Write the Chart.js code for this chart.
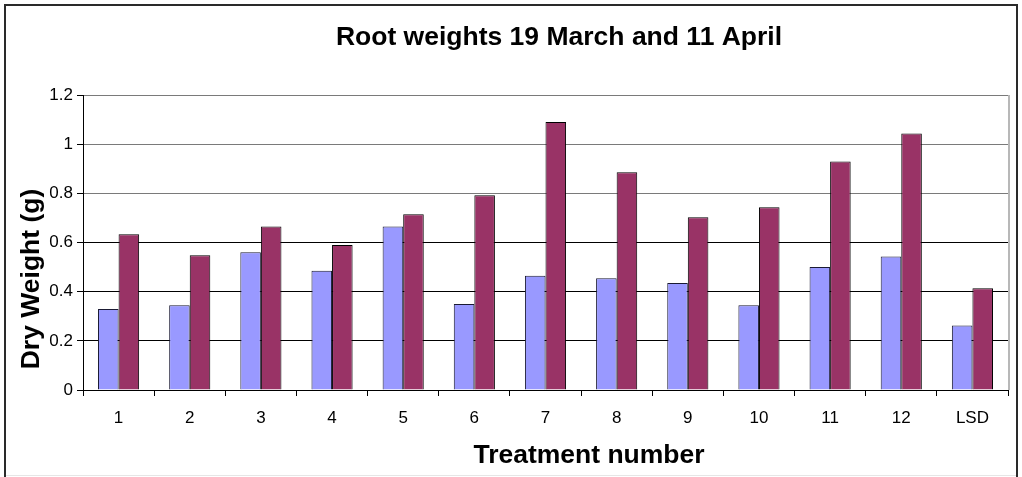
<!DOCTYPE html>
<html>
<head>
<meta charset="utf-8">
<script src="https://cdn.jsdelivr.net/npm/chart.js@4/dist/chart.umd.min.js"></script>
<style>
  html, body { margin: 0; padding: 0; background: #ffffff; }
  #wrap { width: 1022px; height: 477px; position: relative; }
</style>
</head>
<body>
<div id="wrap"><canvas id="c" width="1022" height="477"></canvas></div>
<script>
const categories = ['1', '2', '3', '4', '5', '6', '7', '8', '9', '10', '11', '12', 'LSD'];
const march19 = [0.33, 0.345, 0.56, 0.485, 0.665, 0.35, 0.465, 0.455, 0.435, 0.345, 0.5, 0.543, 0.262];
const april11 = [0.634, 0.548, 0.665, 0.59, 0.715, 0.792, 1.09, 0.886, 0.703, 0.743, 0.93, 1.043, 0.414];
const yTickLabels = ['0', '0.2', '0.4', '0.6', '0.8', '1', '1.2'];
const chartTitle = 'Root weights 19 March and 11 April';
const xTitle = 'Treatment number';
const yTitle = 'Dry Weight (g)';

const FONT = '"Liberation Sans", Arial, sans-serif';

const decor = {
  id: 'decor',
  beforeDatasetsDraw(chart) {
    const {ctx, chartArea: a} = chart;
    ctx.save();
    ctx.strokeStyle = '#b8b8b8';
    ctx.lineWidth = 2;
    ctx.beginPath();
    ctx.moveTo(a.right + 1, a.top);
    ctx.lineTo(a.right + 1, a.bottom);
    ctx.stroke();
    ctx.restore();
  },
  afterDraw(chart) {
    const ctx = chart.ctx;
    ctx.save();
    // outer frame
    ctx.strokeStyle = '#2a2a2a';
    ctx.lineWidth = 2;
    ctx.beginPath();
    ctx.moveTo(5, 477);
    ctx.lineTo(5, 5);
    ctx.lineTo(1017, 5);
    ctx.lineTo(1017, 477);
    ctx.stroke();
    ctx.strokeStyle = '#e6e6e6';
    ctx.lineWidth = 1;
    ctx.beginPath();
    ctx.moveTo(6, 475.5);
    ctx.lineTo(1016, 475.5);
    ctx.stroke();
    // titles
    ctx.fillStyle = '#000';
    ctx.font = 'bold 26.5px ' + FONT;
    ctx.textAlign = 'center';
    ctx.textBaseline = 'alphabetic';
    ctx.fillText(chartTitle, 559, 45);
    ctx.fillText(xTitle, 589, 462.5);
    ctx.translate(38.5, 279);
    ctx.rotate(-Math.PI / 2);
    ctx.fillText(yTitle, 0, 0);
    ctx.restore();
  }
};

new Chart(document.getElementById('c'), {
  type: 'bar',
  data: {
    labels: categories,
    datasets: [
      { label: '19 March', data: march19, backgroundColor: '#9999ff', borderColor: '#1a1a33', borderWidth: 1 },
      { label: '11 April', data: april11, backgroundColor: '#993366', borderColor: '#000000', borderWidth: 1 }
    ]
  },
  options: {
    responsive: false,
    animation: false,
    devicePixelRatio: 1,
    layout: { padding: { top: 95, right: 14, bottom: 47, left: 6 } },
    datasets: { bar: { categoryPercentage: 0.578, barPercentage: 1.0 } },
    plugins: { legend: { display: false }, tooltip: { enabled: false }, title: { display: false } },
    scales: {
      x: {
        afterFit(s) { s.height = 40; },
        grid: { display: true, drawOnChartArea: false, drawTicks: true, tickLength: 6, color: '#000', lineWidth: 1 },
        border: { display: true, color: '#000', width: 1 },
        ticks: { color: '#000', padding: 12, font: { family: FONT, size: 17 }, maxRotation: 0, autoSkip: false }
      },
      y: {
        min: 0, max: 1.2,
        afterFit(s) { s.width = 77; },
        grid: {
          drawTicks: true, tickLength: 6, lineWidth: 1,
          color: (c) => (c.tick && c.tick.value >= 0.79) ? '#7a7a7a' : '#000',
          tickColor: '#000'
        },
        border: { display: true, color: '#000', width: 1 },
        ticks: {
          stepSize: 0.2, color: '#000', padding: 4,
          font: { family: FONT, size: 17 },
          callback: (v, i) => yTickLabels[i]
        }
      }
    }
  },
  plugins: [decor]
});
</script>
</body>
</html>
